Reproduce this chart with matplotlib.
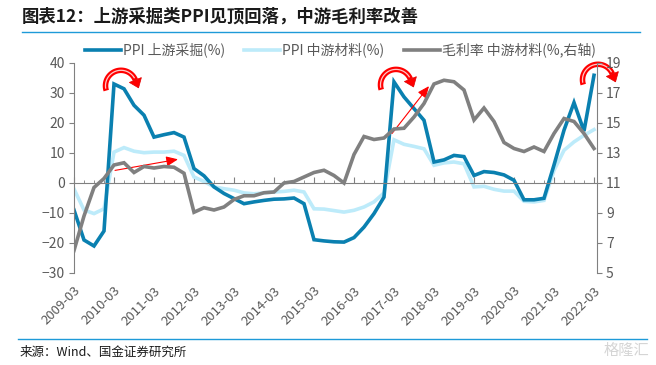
import numpy as np
import matplotlib
matplotlib.use("Agg")
import matplotlib.pyplot as plt
from matplotlib.patches import Polygon
from matplotlib.lines import Line2D
from matplotlib.ticker import MultipleLocator, FixedLocator

plt.rcParams['font.family'] = ['Noto Sans CJK SC', 'DejaVu Sans']

# quarterly, 2009-03 .. 2022-03
years = list(range(2009, 2023))
year_labels = [f"{y}-03" for y in years]

upstream = [-9, -19, -21, -16, 33, 31.4, 25.9, 22.6, 15.3, 16.1, 16.8, 15.3, 4.8, 2.4,
            -1.3, -3.5, -5.2, -6.9, -6.3, -5.8, -5.4, -5.3, -5.0, -6.9, -18.9, -19.3,
            -19.6, -19.7, -18.2, -14.7, -10.2, -4.7, 33.7, 28.7, 24.8, 20.9, 7.0, 7.7,
            9.2, 8.8, 2.5, 3.8, 3.5, 2.7, 0.9, -5.6, -5.6, -5.1, 6.0, 17.6, 26.8, 17.3, 35.9]
midstream = [-2, -9, -10.2, -8.6, 10.3, 11.8, 10.6, 10.1, 10.3, 10.3, 10.6, 9.2, 2.0, 0.5,
             -1.3, -1.9, -2.4, -3.3, -3.6, -3.3, -3.0, -2.8, -2.4, -3.0, -8.6, -8.7,
             -9.2, -9.7, -9.1, -8.0, -6.3, -3.3, 14.4, 12.9, 12.2, 11.4, 5.9, 6.7,
             7.0, 6.4, -1.3, -1.1, -2.1, -2.7, -2.7, -6.1, -6.3, -5.8, 4.2, 10.9, 13.7, 15.9, 17.8]
margin = [6.5, 8.8, 10.7, 11.3, 12.2, 12.35, 11.7, 12.1, 12.0, 12.1, 12.05, 11.65, 9.05, 9.35,
          9.2, 9.4, 9.9, 10.15, 10.15, 10.35, 10.4, 11.0, 11.1, 11.4, 11.7, 11.85,
          11.5, 11.0, 12.9, 14.1, 13.9, 14.0, 14.6, 14.65, 15.4, 16.3, 17.6, 17.85,
          17.75, 17.2, 15.2, 16.0, 15.1, 13.7, 13.3, 13.1, 13.4, 13.1, 14.3, 15.3, 15.1, 14.3, 13.3]

x = np.arange(len(upstream))
c_up = '#0A80B0'
c_mid = '#BDEBFA'
c_gm = '#808080'
c_txt = '#595959'

fig = plt.figure(figsize=(6.56, 3.65), dpi=100)
ax = fig.add_axes([74/656, 1-273/365, (597-74)/656, 210/365])
ax2 = ax.twinx()

l2, = ax.plot(x, midstream, color=c_mid, lw=2.6, solid_joinstyle='miter', label='PPI 中游材料(%)')
l1, = ax.plot(x, upstream, color=c_up, lw=2.6, solid_joinstyle='miter', label='PPI 上游采掘(%)')
l3, = ax2.plot(x, margin, color=c_gm, lw=2.6, solid_joinstyle='miter', label='毛利率 中游材料(%,右轴)')

ax.set_xlim(0, 52.3)
ax.set_ylim(-30, 40)
ax2.set_ylim(5, 19)
ax.yaxis.set_major_locator(MultipleLocator(10))
ax2.set_yticks(range(5, 20, 2))

for a in (ax, ax2):
    a.spines['top'].set_visible(False)
    for s in a.spines.values():
        s.set_color(c_gm)
ax2.spines['bottom'].set_visible(False)
ax2.spines['left'].set_visible(False)
ax.spines['right'].set_visible(False)

# category axis drawn at zero
ax.spines['bottom'].set_position(('data', 0))
ax.xaxis.set_major_locator(FixedLocator(x[::4]))
ax.xaxis.set_minor_locator(FixedLocator(x))
ax.tick_params(axis='x', which='major', direction='in', length=4.5, color=c_gm, labelbottom=False)
ax.tick_params(axis='x', which='minor', direction='in', length=2.5, color=c_gm)
ax.tick_params(axis='y', direction='out', length=3.5, color=c_gm, labelcolor=c_txt, labelsize=10, pad=3)
ax2.tick_params(axis='y', direction='out', length=3.5, color=c_gm, labelcolor=c_txt, labelsize=10, pad=3)

sec = ax.secondary_xaxis('bottom')
sec.spines['bottom'].set_visible(False)
sec.set_xticks(x[::4])
sec.set_xticklabels(year_labels, rotation=45, ha='right', va='top', rotation_mode='anchor',
                    fontsize=9.5, color=c_txt)
sec.tick_params(axis='x', length=0, pad=8)

fig.legend(handles=[l1, l2, l3], loc='center left', bbox_to_anchor=(72/656, 1-50/365),
           ncol=3, frameon=False, fontsize=10, handlelength=2.6, handletextpad=0.15,
           columnspacing=1.4, labelcolor=c_txt)

# curved "peak" arrows: half circles over the three peaks (radius in pixels)
px_x, px_y = 10.0, 3.0  # pixels per data unit
r = 15.5
t = np.radians(np.linspace(198, 22, 50))
for cx, cy in ((4.7, 32.4), (32.2, 32.7), (52.4, 34.4)):
    ax.plot(cx + r / px_x * np.cos(t), cy + r / px_y * np.sin(t), color='#FF0000', lw=4.0,
            solid_capstyle='butt', clip_on=False, zorder=6)
    ax.plot(cx + r / px_x * np.cos(t[2:-2]), cy + r / px_y * np.sin(t[2:-2]), color='#FFC8C8',
            lw=0.9, solid_capstyle='butt', clip_on=False, zorder=7)
    te = t[-1]
    bx, by = r * np.cos(te), r * np.sin(te)
    tx, ty = np.sin(te), -np.cos(te)      # tangent (clockwise)
    nx, ny = np.cos(te), np.sin(te)       # outward normal
    tri = [(bx + 6.5 * nx, by + 6.5 * ny), (bx - 6.5 * nx, by - 6.5 * ny), (bx + 8.5 * tx, by + 8.5 * ty)]
    tri = [(cx + a / px_x, cy + b / px_y) for a, b in tri]
    ax.add_patch(Polygon(tri, closed=True, facecolor='#FF0000', edgecolor='#E00000', lw=0.5,
                         clip_on=False, zorder=6))

# straight trend arrows
for start, end in (((4.1, 4.2), (10.4, 7.9)), ((31.8, 16.5), (35.5, 32.3))):
    ax.annotate('', xy=end, xytext=start,
                arrowprops=dict(arrowstyle='-|>,head_length=0.7,head_width=0.3',
                                color='#FF0000', lw=0.8, shrinkA=0, shrinkB=0),
                zorder=6)

fig.text(22/656, 1-17/365, '图表12：上游采掘类PPI见顶回落，中游毛利率改善',
         fontsize=12.5, fontweight='bold', va='center', ha='left', color='#1A1A1A')
fig.add_artist(Line2D([22/656, 640/656], [1-32/365, 1-32/365], color='#1E9AD8', lw=1.0))
fig.add_artist(Line2D([18/656, 647/656], [1-339/365, 1-339/365], color='#1E9AD8', lw=1.0))
fig.text(20/656, 1-352/365, '来源：Wind、国金证券研究所', fontsize=9, va='center', ha='left', color='#1A1A1A')
fig.text(604/656, 1-350/365, '格隆汇', fontsize=11, va='center', ha='left', color='#D5D5D5')

fig.savefig('out.png', dpi=100)
